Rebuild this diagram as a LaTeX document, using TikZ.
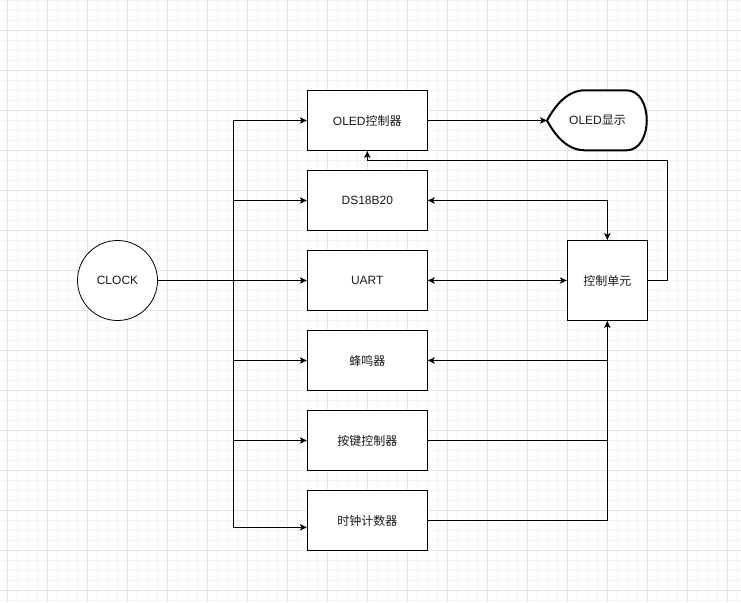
\documentclass[tikz,border=0pt]{standalone}
\usepackage{fontspec}
\setmainfont{Liberation Sans}
\newfontfamily\cjk{Noto Sans CJK SC}
\usetikzlibrary{arrows.meta}
\definecolor{minorg}{HTML}{F4F4F4}
\definecolor{majorg}{HTML}{E4E4E4}
\definecolor{txt}{HTML}{1A1A1A}
\begin{document}
\begin{tikzpicture}[x=1pt,y=-1pt,
  line width=1pt,
  box/.style={draw,line width=1pt,fill=white,minimum width=120pt,minimum height=60pt,inner sep=0pt,text=txt,font=\fontsize{12}{14}\selectfont},
  ctrlbox/.style={box,minimum width=80pt,minimum height=80pt},
  circ/.style={draw,circle,line width=0.8pt,fill=white,minimum size=80pt,inner sep=0pt,text=txt,font=\fontsize{12}{14}\selectfont},
  lbl/.style={inner sep=0pt,text=txt,font=\fontsize{12}{14}\selectfont},
  arr/.style={-{Stealth[length=7pt,width=6.5pt,inset=1.8pt]}},
  both/.style={{Stealth[length=7pt,width=6.5pt,inset=1.8pt]}-{Stealth[length=7pt,width=6.5pt,inset=1.8pt]}}
]
\useasboundingbox (0,0) rectangle (741,602);
\fill[white] (0,0) rectangle (741,602);
% grid
\foreach \i in {0,...,73} {\draw[minorg,line width=0.8pt] (7+10*\i,0) -- (7+10*\i,602);}
\foreach \j in {0,...,60} {\draw[minorg,line width=0.8pt] (0,0.7+10*\j) -- (741,0.7+10*\j);}
\foreach \i in {0,...,18} {\draw[majorg,line width=0.8pt] (7+40*\i,0) -- (7+40*\i,602);}
\foreach \j in {-1,...,14} {\draw[majorg,line width=0.8pt] (0,30.7+40*\j) -- (741,30.7+40*\j);}

% nodes
\node[circ] (clock) at (117.5,280.5) {CLOCK};
\node[box] (oled) at (367.3,120.5) {OLED{\cjk 控制器}};
\node[box] (ds) at (367.3,200.5) {DS18B20};
\node[box] (uart) at (367.3,280.5) {UART};
\node[box] (buzz) at (367.3,360.5) {\cjk 蜂鸣器};
\node[box] (key) at (367.3,440.5) {\cjk 按键控制器};
\node[box] (clk) at (367.3,520.5) {\cjk 时钟计数器};
\node[ctrlbox] (ctrl) at (607.3,280.5) {\cjk 控制单元};

% display shape
\draw[line width=2pt,fill=white] (547,120.5) .. controls (556,104) and (568,90.3) .. (585,90.3)
  -- (626.5,90.3) .. controls (653.5,90.3) and (653.5,150.3) .. (626.5,150.3)
  -- (585,150.3) .. controls (568,150.3) and (556,137) .. cycle;
\coordinate (dispw) at (547,120.5);
\node[lbl] (disp) at (597.5,120.5) {OLED{\cjk 显示}};

% bus
\coordinate (bt) at (233,120.5);
\coordinate (bb) at (233,527.3);
\draw (bt) -- (bb);
\draw[arr] (bt) -- (oled.west);
\draw[arr] (bt |- ds) -- (ds.west);
\draw[arr] (bt |- buzz) -- (buzz.west);
\draw[arr] (bt |- key) -- (key.west);
\draw[arr] (bb) -- (bb -| clk.west);

% clock to uart
\draw[arr] (clock.east) -- (uart.west);

% oled to display
\draw[arr] (oled.east) -- (dispw);

% ds <-> ctrl
\draw[both] (ds.east) -| (ctrl.north);
% uart <-> ctrl
\draw[both] (uart.east) -- (ctrl.west);

% ctrl -> oled
\coordinate (r1) at (667.3,160.7);
\draw[arr] (ctrl.east) -| (r1) -- (r1 -| oled.south) -- (oled.south);

% lower connections
\draw (key.east) -- (key.east -| ctrl.south);
\draw (clk.east) -- (clk.east -| ctrl.south);
\draw[arr] (clk.east -| ctrl.south) -- (ctrl.south);
\draw[arr] (buzz.east -| ctrl.south) -- (buzz.east);
\end{tikzpicture}
\end{document}
